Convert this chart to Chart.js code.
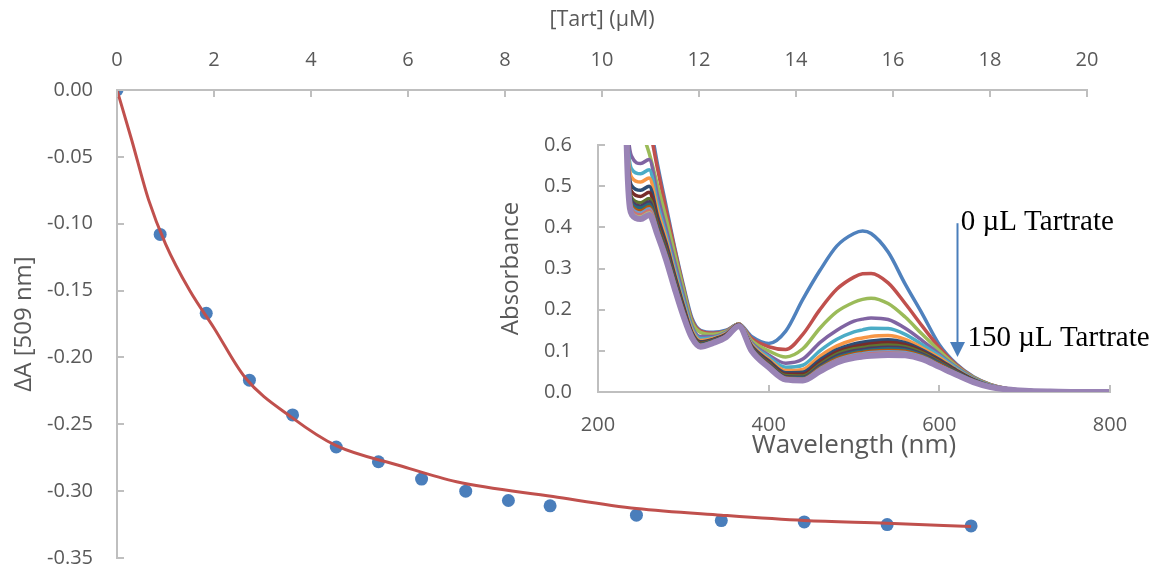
<!DOCTYPE html>
<html>
<head>
<meta charset="utf-8">
<script src="https://cdn.jsdelivr.net/npm/chart.js@4.4.0/dist/chart.umd.min.js"></script>
<style>
  body { margin: 0; background: #fff; }
  #wrap { position: relative; width: 1153px; height: 569px; background: #fff; }
  #mainChart { position: absolute; left: 0; top: 0; }
  #insetChart { position: absolute; left: 480px; top: 120px; }
</style>
</head>
<body>
<div id="wrap">
  <canvas id="mainChart" width="1153" height="569"></canvas>
  <canvas id="insetChart" width="673" height="350"></canvas>
</div>
<script>
// titration points: [Tart] (uM) vs dA at 509 nm
var tart = [0, 0.89, 1.84, 2.73, 3.62, 4.52, 5.39, 6.28, 7.19, 8.07, 8.93, 10.71, 12.46, 14.17, 15.88, 17.61];
var dA = [0, -0.108, -0.167, -0.217, -0.243, -0.267, -0.278, -0.291, -0.300, -0.307, -0.311, -0.318, -0.322, -0.323, -0.325, -0.326];

// fitted curve
var fitX = [0, 0.3, 0.65, 1.0, 1.5, 2.0, 2.64, 3.61, 4.52, 5.84, 7.0, 8.99, 10.71, 12.46, 14.17, 15.88, 17.61];
var fitY = [0, -0.037, -0.082, -0.115, -0.150, -0.178, -0.215, -0.245, -0.266, -0.281, -0.293, -0.304, -0.313, -0.318, -0.322, -0.324, -0.3265];

// inset spectra
var wavelength = [230, 235, 240, 250, 260, 270, 280, 290, 300, 310, 320, 335, 350, 365, 380, 400, 420, 440, 460, 480, 500, 510, 520, 540, 560, 580, 600, 620, 640, 660, 680, 700, 730, 760, 800];
var abs0   = [1.00, 0.85, 0.76, 0.72, 0.66, 0.55, 0.45, 0.35, 0.26, 0.18, 0.15, 0.145, 0.15, 0.165, 0.135, 0.118, 0.148, 0.225, 0.295, 0.355, 0.385, 0.391, 0.385, 0.34, 0.262, 0.19, 0.115, 0.068, 0.037, 0.018, 0.008, 0.004, 0.001, 0, 0];
var abs10  = [1.00, 0.84, 0.74, 0.68, 0.64, 0.54, 0.44, 0.345, 0.255, 0.175, 0.148, 0.143, 0.148, 0.165, 0.13, 0.11, 0.103, 0.14, 0.2, 0.25, 0.279, 0.287, 0.288, 0.265, 0.215, 0.16, 0.108, 0.066, 0.036, 0.018, 0.008, 0.004, 0.001, 0, 0];
var abs20  = [0.98, 0.80, 0.70, 0.64, 0.58, 0.50, 0.42, 0.335, 0.25, 0.17, 0.145, 0.14, 0.147, 0.165, 0.125, 0.10, 0.085, 0.105, 0.155, 0.195, 0.218, 0.225, 0.228, 0.215, 0.182, 0.14, 0.10, 0.063, 0.035, 0.017, 0.008, 0.004, 0.001, 0, 0];
var abs30  = [0.95, 0.64, 0.57, 0.555, 0.565, 0.475, 0.395, 0.315, 0.235, 0.16, 0.135, 0.135, 0.145, 0.165, 0.12, 0.09, 0.07, 0.08, 0.12, 0.15, 0.172, 0.177, 0.18, 0.176, 0.155, 0.125, 0.092, 0.06, 0.033, 0.016, 0.008, 0.004, 0.001, 0, 0];
var abs40  = [0.94, 0.61, 0.54, 0.53, 0.54, 0.455, 0.38, 0.30, 0.225, 0.155, 0.13, 0.132, 0.143, 0.165, 0.117, 0.085, 0.06, 0.065, 0.10, 0.128, 0.146, 0.151, 0.155, 0.154, 0.14, 0.115, 0.088, 0.058, 0.032, 0.016, 0.007, 0.003, 0.001, 0, 0];
var abs50  = [0.93, 0.59, 0.52, 0.51, 0.52, 0.44, 0.37, 0.29, 0.215, 0.15, 0.125, 0.13, 0.142, 0.165, 0.115, 0.08, 0.052, 0.055, 0.087, 0.112, 0.127, 0.131, 0.135, 0.137, 0.128, 0.107, 0.083, 0.055, 0.031, 0.015, 0.007, 0.003, 0.001, 0, 0];
var abs60  = [0.92, 0.57, 0.50, 0.49, 0.50, 0.425, 0.36, 0.283, 0.21, 0.145, 0.122, 0.128, 0.14, 0.164, 0.112, 0.076, 0.047, 0.048, 0.078, 0.103, 0.117, 0.121, 0.124, 0.127, 0.12, 0.102, 0.079, 0.053, 0.03, 0.015, 0.007, 0.003, 0.001, 0, 0];
var abs70  = [0.91, 0.56, 0.485, 0.475, 0.485, 0.415, 0.352, 0.277, 0.205, 0.142, 0.12, 0.127, 0.139, 0.164, 0.11, 0.073, 0.043, 0.043, 0.072, 0.097, 0.11, 0.114, 0.117, 0.12, 0.115, 0.098, 0.076, 0.051, 0.029, 0.014, 0.007, 0.003, 0.001, 0, 0];
var abs80  = [0.90, 0.55, 0.47, 0.46, 0.47, 0.405, 0.345, 0.272, 0.20, 0.14, 0.118, 0.126, 0.138, 0.163, 0.108, 0.07, 0.04, 0.039, 0.067, 0.092, 0.105, 0.108, 0.111, 0.114, 0.11, 0.095, 0.073, 0.049, 0.028, 0.014, 0.006, 0.003, 0.001, 0, 0];
var abs90  = [0.90, 0.545, 0.462, 0.452, 0.462, 0.40, 0.34, 0.268, 0.197, 0.138, 0.116, 0.125, 0.137, 0.163, 0.106, 0.068, 0.037, 0.036, 0.063, 0.088, 0.10, 0.103, 0.106, 0.109, 0.106, 0.092, 0.071, 0.048, 0.027, 0.013, 0.006, 0.003, 0.001, 0, 0];
var abs100 = [0.90, 0.54, 0.456, 0.447, 0.456, 0.396, 0.336, 0.265, 0.195, 0.137, 0.115, 0.124, 0.136, 0.162, 0.105, 0.066, 0.035, 0.034, 0.06, 0.084, 0.096, 0.099, 0.102, 0.105, 0.102, 0.089, 0.069, 0.047, 0.027, 0.013, 0.006, 0.003, 0.001, 0, 0];
var abs110 = [0.90, 0.535, 0.45, 0.44, 0.45, 0.392, 0.332, 0.262, 0.193, 0.136, 0.114, 0.123, 0.136, 0.162, 0.104, 0.065, 0.034, 0.032, 0.058, 0.081, 0.093, 0.096, 0.099, 0.101, 0.099, 0.087, 0.067, 0.046, 0.026, 0.013, 0.006, 0.003, 0.001, 0, 0];
var abs120 = [0.90, 0.53, 0.445, 0.435, 0.445, 0.388, 0.328, 0.259, 0.191, 0.135, 0.113, 0.122, 0.135, 0.162, 0.103, 0.063, 0.033, 0.031, 0.056, 0.078, 0.09, 0.093, 0.096, 0.098, 0.096, 0.085, 0.065, 0.045, 0.026, 0.013, 0.006, 0.003, 0.001, 0, 0];
var abs130 = [0.90, 0.525, 0.44, 0.43, 0.44, 0.385, 0.325, 0.256, 0.189, 0.134, 0.112, 0.121, 0.135, 0.161, 0.102, 0.062, 0.032, 0.03, 0.054, 0.076, 0.087, 0.09, 0.093, 0.095, 0.093, 0.083, 0.064, 0.044, 0.025, 0.012, 0.006, 0.003, 0.001, 0, 0];
var abs140 = [0.90, 0.52, 0.435, 0.425, 0.435, 0.382, 0.322, 0.253, 0.187, 0.133, 0.111, 0.12, 0.134, 0.161, 0.101, 0.061, 0.031, 0.029, 0.052, 0.074, 0.085, 0.088, 0.09, 0.092, 0.091, 0.081, 0.062, 0.043, 0.025, 0.012, 0.006, 0.003, 0.001, 0, 0];
var abs150 = [0.90, 0.515, 0.43, 0.42, 0.43, 0.38, 0.32, 0.25, 0.185, 0.132, 0.11, 0.119, 0.133, 0.16, 0.10, 0.06, 0.03, 0.028, 0.05, 0.072, 0.083, 0.086, 0.088, 0.09, 0.089, 0.08, 0.061, 0.042, 0.024, 0.012, 0.006, 0.003, 0.001, 0, 0];

var spectra = [abs0, abs10, abs20, abs30, abs40, abs50, abs60, abs70, abs80, abs90, abs100, abs110, abs120, abs130, abs140, abs150];
var spectraColors = ['#4F81BD', '#C0504D', '#9BBB59', '#8064A2', '#4BACC6', '#F79646', '#2C4D75', '#772C2A',
                     '#5F7530', '#4D3B62', '#276A7C', '#B65708', '#729ACA', '#CD7371', '#AFC97A', '#9983B5'];

var axisColor = '#BFBFBF';
var textColor = '#595959';
var uiFont = 'Open Sans';

function pts(xs, ys) {
   return xs.map(function(x, i) { return { x: x, y: ys[i] }; });
}

// Excel style tick marks pointing into the plot
function inTicks(xSide) {
   return {
      id: 'inTicks',
      afterDraw: function(chart) {
         var ctx = chart.ctx, a = chart.chartArea;
         var xs = chart.scales.x, ys = chart.scales.y;
         ctx.save();
         ctx.strokeStyle = axisColor;
         ctx.lineWidth = 2;
         ctx.beginPath();
         xs.ticks.forEach(function(t, i) {
            var px = Math.round(xs.getPixelForTick(i));
            var y0 = xSide === 'top' ? a.top : a.bottom;
            var y1 = xSide === 'top' ? a.top + 7 : a.bottom - 7;
            ctx.moveTo(px, y0);
            ctx.lineTo(px, y1);
         });
         ys.ticks.forEach(function(t, i) {
            var py = Math.round(ys.getPixelForTick(i));
            ctx.moveTo(a.left, py);
            ctx.lineTo(a.left + 7, py);
         });
         ctx.stroke();
         ctx.restore();
      }
   };
}

// main chart
var mainCtx = document.getElementById('mainChart').getContext('2d');
new Chart(mainCtx, {
   type: 'scatter',
   data: {
      datasets: [{
         data: pts(fitX, fitY),
         showLine: true,
         borderColor: '#C0504D',
         borderWidth: 3,
         pointRadius: 0,
         cubicInterpolationMode: 'monotone'
      }, {
         data: pts(tart, dA),
         backgroundColor: '#4A7EBB',
         borderColor: '#4A7EBB',
         pointRadius: 6.5,
         pointBorderWidth: 0
      }]
   },
   options: {
      responsive: false,
      animation: false,
      devicePixelRatio: 1,
      layout: { padding: { left: 0, top: 0, right: 66, bottom: 11 } },
      plugins: { legend: { display: false }, tooltip: { enabled: false } },
      scales: {
         x: {
            type: 'linear',
            position: 'top',
            min: 0, max: 20,
            grid: { display: false, drawTicks: false },
            border: { color: axisColor, width: 2 },
            ticks: { stepSize: 2, color: textColor, font: { family: uiFont, size: 20 }, padding: 18, maxRotation: 0 },
            title: { display: true, text: '[Tart] (µM)', color: textColor, font: { family: uiFont, size: 21.5 }, padding: { top: 7, bottom: 0 } },
            afterFit: function(s) { s.height = 90; }
         },
         y: {
            min: -0.35, max: 0,
            grid: { display: false, drawTicks: false },
            border: { color: axisColor, width: 2 },
            ticks: {
               stepSize: 0.05, color: textColor, font: { family: uiFont, size: 20 }, padding: 24,
               callback: function(v) { return v.toFixed(2); }
            },
            title: { display: true, text: 'ΔA [509 nm]', color: textColor, font: { family: uiFont, size: 24 }, padding: { top: 10, bottom: 0 } },
            afterFit: function(s) { s.width = 117; s.paddingTop = 0; s.paddingBottom = 0; }
         }
      }
   },
   plugins: [inTicks('top')]
});

// arrow + labels on the inset
var arrowNote = {
   id: 'arrowNote',
   afterDraw: function(chart) {
      var ctx = chart.ctx, xs = chart.scales.x, ys = chart.scales.y;
      var ax = Math.round(xs.getPixelForValue(621)) + 0.5;
      var yTop = ys.getPixelForValue(0.41);
      var yTip = ys.getPixelForValue(0.085);
      ctx.save();
      ctx.strokeStyle = '#4A7EBB';
      ctx.fillStyle = '#4A7EBB';
      ctx.lineWidth = 2;
      ctx.beginPath();
      ctx.moveTo(ax, yTop);
      ctx.lineTo(ax, yTip - 12);
      ctx.stroke();
      ctx.beginPath();
      ctx.moveTo(ax - 7.5, yTip - 15);
      ctx.lineTo(ax + 7.5, yTip - 15);
      ctx.lineTo(ax, yTip);
      ctx.closePath();
      ctx.fill();
      ctx.fillStyle = '#000';
      ctx.font = '29px "Liberation Serif"';
      ctx.textBaseline = 'middle';
      ctx.fillText('0 µL Tartrate', xs.getPixelForValue(625), ys.getPixelForValue(0.413));
      ctx.fillText('150 µL Tartrate', xs.getPixelForValue(633), ys.getPixelForValue(0.13));
      ctx.restore();
   }
};

var insetCtx = document.getElementById('insetChart').getContext('2d');
new Chart(insetCtx, {
   type: 'line',
   data: {
      datasets: spectra.map(function(s, i) {
         return {
            data: pts(wavelength, s),
            borderColor: spectraColors[i],
            borderWidth: i === spectra.length - 1 ? 6 : 3.5,
            pointRadius: 0,
            cubicInterpolationMode: 'monotone',
            order: spectra.length - i
         };
      })
   },
   options: {
      responsive: false,
      animation: false,
      devicePixelRatio: 1,
      layout: { padding: { left: 0, top: 25, right: 43, bottom: 0 } },
      plugins: { legend: { display: false }, tooltip: { enabled: false } },
      scales: {
         x: {
            type: 'linear',
            min: 200, max: 800,
            grid: { display: false, drawTicks: false },
            border: { color: axisColor, width: 2 },
            ticks: { stepSize: 200, color: textColor, font: { family: uiFont, size: 20 }, padding: 21, maxRotation: 0 },
            title: { display: true, text: 'Wavelength (nm)', color: textColor, font: { family: uiFont, size: 26 }, padding: { top: 0, bottom: 9 } },
            afterFit: function(s) { s.height = 78; }
         },
         y: {
            min: 0, max: 0.6,
            grid: { display: false, drawTicks: false },
            border: { color: axisColor, width: 2 },
            ticks: {
               stepSize: 0.1, color: textColor, font: { family: uiFont, size: 20 }, padding: 26,
               callback: function(v) { return v.toFixed(1); }
            },
            title: { display: true, text: 'Absorbance', color: textColor, font: { family: uiFont, size: 24 }, padding: { top: 17, bottom: 0 } },
            afterFit: function(s) { s.width = 118; s.paddingTop = 0; s.paddingBottom = 0; }
         }
      }
   },
   plugins: [inTicks('bottom'), arrowNote]
});
</script>
</body>
</html>
